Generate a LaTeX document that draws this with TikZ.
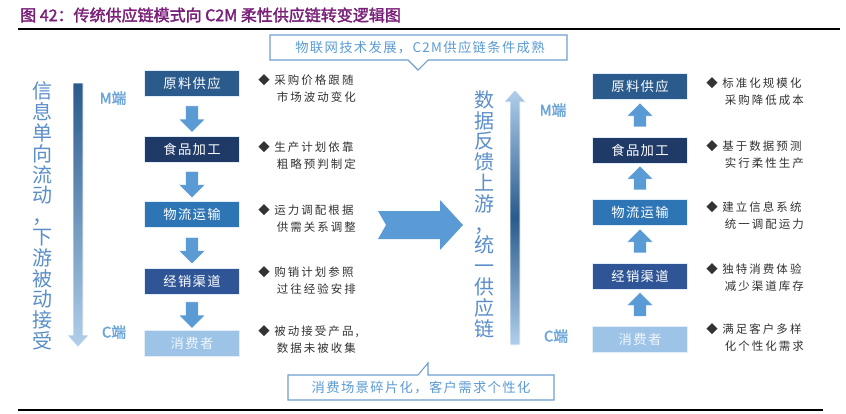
\documentclass[tikz,border=0pt]{standalone}
\usepackage{fontspec}
\setmainfont{Noto Sans CJK SC}
\newfontfamily\fbold[FakeBold=2]{Noto Sans CJK SC}
\newfontfamily\fsp[LetterSpace=18]{Noto Sans CJK SC}
\newfontfamily\fbx[LetterSpace=10]{Noto Sans CJK SC}
\usetikzlibrary{shapes.arrows}
\definecolor{ttl}{HTML}{7A1F78}
\definecolor{cA}{HTML}{2A5B8C}
\definecolor{cB}{HTML}{1F3A66}
\definecolor{cC}{HTML}{2E75B6}
\definecolor{cD}{HTML}{2F5597}
\definecolor{cE}{HTML}{9DC3E6}
\definecolor{arr}{HTML}{5B9BD5}
\definecolor{vt}{HTML}{5B8FC9}
\definecolor{cl}{HTML}{6F9FCF}
\begin{document}
\begin{tikzpicture}[x=0.75pt,y=-0.75pt,
  box/.style={minimum width=71.25pt,minimum height=19.5pt,inner sep=0pt,text=white,font=\fbx\fontsize{10}{12}\selectfont,draw=white!70!cE,line width=0.5pt},
  bul/.style={anchor=north west,align=left,font=\fsp\fontsize{8.6}{13}\selectfont,text=black!80,inner sep=0pt},
  dn/.style={single arrow,shape border rotate=270,fill=arr,draw=white,minimum width=20pt,single arrow head extend=3pt,single arrow tip angle=90,minimum height=20pt,inner sep=2.5pt},
  up/.style={dn,shape border rotate=90},
  vtext/.style={align=center,text=vt,font=\fontsize{15}{15.6}\selectfont,inner sep=0pt},
  endl/.style={text=arr!90!white,font=\fbold\fontsize{11}{12}\selectfont,inner sep=0pt},
  callout/.style={draw=cl,line width=0.8pt,fill=white},
  ctext/.style={text=arr,font=\fbx\fontsize{10}{12}\selectfont,inner sep=0pt}]
\useasboundingbox (0,0) rectangle (846,414);
\fill[white] (0,0) rectangle (846,414);
\node[anchor=west,text=ttl,font=\fbold\fontsize{12}{14}\selectfont,inner sep=0pt] (title) at (20,15) {图 42：传统供应链模式向 C2M 柔性供应链转变逻辑图};
\draw[line width=0.9pt] (18,29) -- (840,29);
\draw[line width=0.9pt] (18,410) -- (823,410);
% left column
\node[box,fill=cA] (a1) at (192,83) {原料供应};
\node[box,fill=cB] (a2) at (192,149) {食品加工};
\node[box,fill=cC] (a3) at (192,214) {物流运输};
\node[box,fill=cD] (a4) at (192,281) {经销渠道};
\node[box,fill=cE,text=white!85!cE] (a5) at (192,343) {消费者};
\foreach \i/\j in {a1/a2,a2/a3,a3/a4,a4/a5}{
  \path (\i.south) -- (\j.north) node[midway,dn] {};}
\node[bul] (b1) at (258,74) {◆ 采购价格跟随\\\ \ \ \ 市场波动变化};
\node[bul] (b2) at (258,141) {◆ 生产计划依靠\\\ \ \ \ 粗略预判制定};
\node[bul] (b3) at (258,204) {◆ 运力调配根据\\\ \ \ \ 供需关系调整};
\node[bul] (b4) at (258,266) {◆ 购销计划参照\\\ \ \ \ 过往经验安排};
\node[bul] (b5) at (258,325) {◆ 被动接受产品,\\\ \ \ \ 数据未被收集};
\node[vtext] (lv) at (42,216) {信\\息\\单\\向\\流\\动\\，\\下\\游\\被\\动\\接\\受};
\shade[top color=cA,bottom color=cE!80!white,draw=white]
  (73,83) -- (83,83) -- (83,335) -- (89,335) -- (78,347) -- (67,335) -- (73,335) -- cycle;
\node[endl] (lm) at (113,98) {M端};
\node[endl] (lc) at (114,332) {C端};
% big arrow
\fill[arr] (378,211) -- (440,211) -- (440,200) -- (463,225) -- (440,250) -- (440,239) -- (378,239) -- (386,225) -- cycle;
% right column
\node[vtext] (rv) at (484,214) {数\\据\\反\\馈\\上\\游\\，\\统\\一\\供\\应\\链};
\shade[top color=cE!80!white,bottom color=cE!80!white,middle color=cA,draw=white]
  (510,345) -- (520,345) -- (520,102) -- (526,102) -- (515,90) -- (504,102) -- (510,102) -- cycle;
\node[endl] (rm) at (553,110) {M端};
\node[endl] (rc) at (556,336) {C端};
\node[box,fill=cA] (c1) at (640,86) {原料供应};
\node[box,fill=cB] (c2) at (640,150) {食品加工};
\node[box,fill=cC] (c3) at (640,212) {物流运输};
\node[box,fill=cD] (c4) at (640,276) {经销渠道};
\node[box,fill=cE,text=white!85!cE] (c5) at (640,339) {消费者};
\foreach \i/\j in {c2/c1,c3/c2,c4/c3,c5/c4}{
  \path (\i.north) -- (\j.south) node[midway,up,minimum height=18pt] {};}
\node[bul] (d1) at (706,77) {◆ 标准化规模化\\\ \ \ \ 采购降低成本};
\node[bul] (d2) at (706,140) {◆ 基于数据预测\\\ \ \ \ 实行柔性生产};
\node[bul] (d3) at (706,201) {◆ 建立信息系统\\\ \ \ \ 统一调配运力};
\node[bul] (d4) at (706,263) {◆ 独特消费体验\\\ \ \ \ 减少渠道库存};
\node[bul] (d5) at (706,323) {◆ 满足客户多样\\\ \ \ \ 化个性化需求};
% callouts
\draw[callout] (270,35) -- (567,35) -- (567,60) -- (428,60) -- (418,70) -- (408,60) -- (270,60) -- cycle;
\node[ctext] (t1) at (420,47.5) {物联网技术发展，C2M供应链条件成熟};
\draw[callout] (288,375) -- (418,375) -- (428,363) -- (428,375) -- (554,375) -- (554,400) -- (288,400) -- cycle;
\node[ctext] (t2) at (421,387.5) {消费场景碎片化，客户需求个性化};
\end{tikzpicture}
\end{document}
